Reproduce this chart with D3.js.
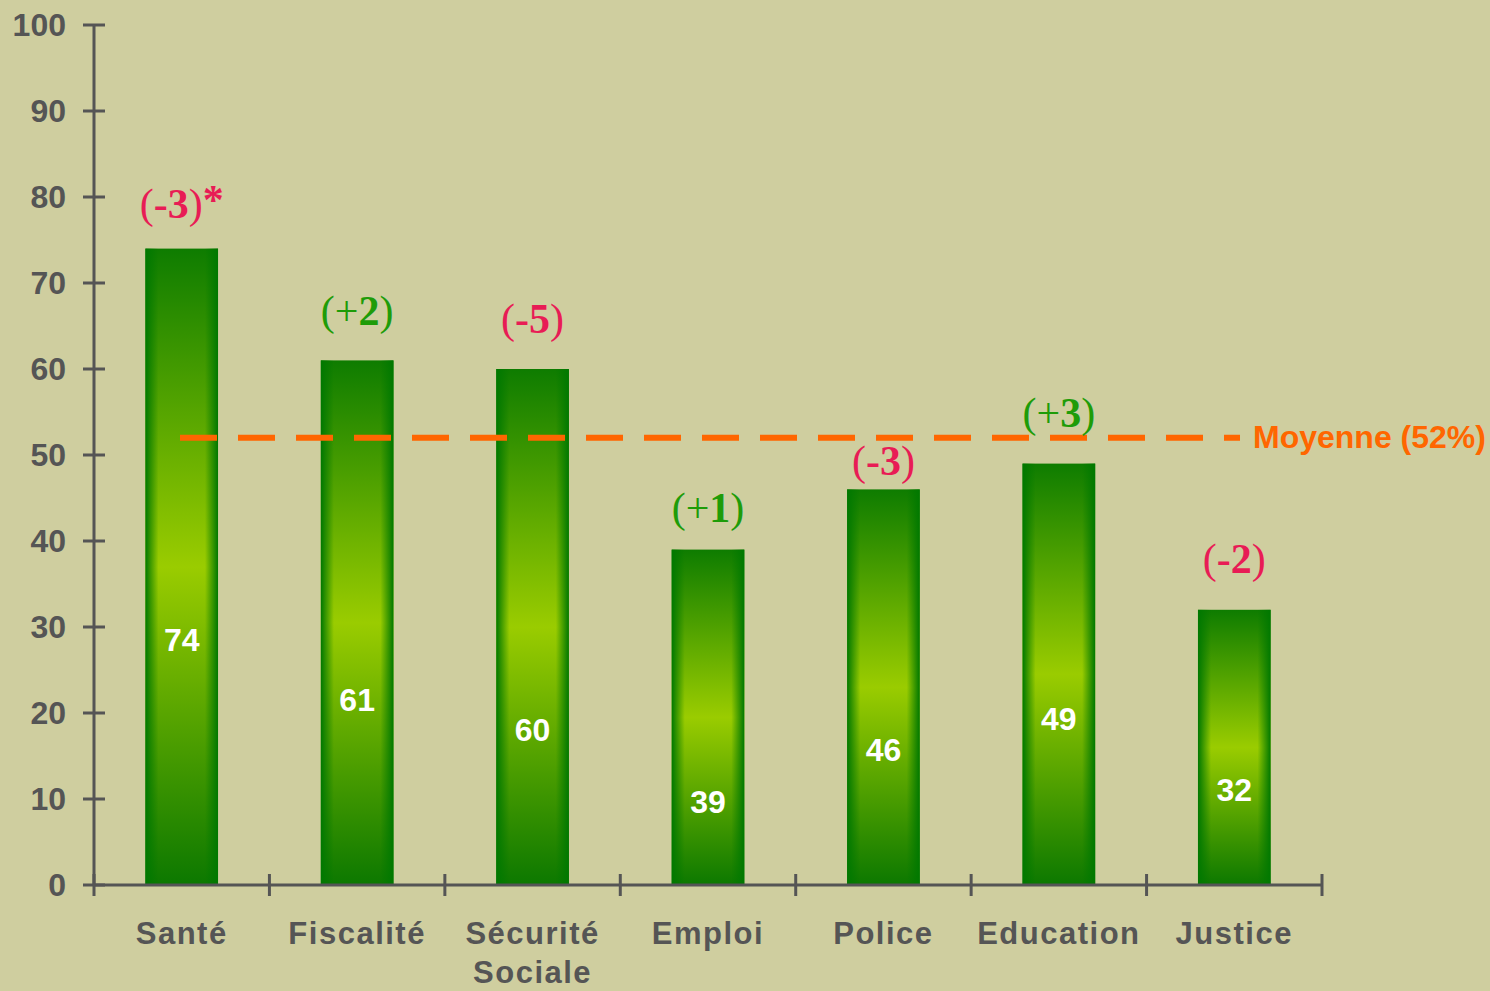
<!DOCTYPE html>
<html>
<head>
<meta charset="utf-8">
<script src="https://cdn.jsdelivr.net/npm/d3@7"></script>
<style>
  html, body { margin: 0; padding: 0; background: #cfce9f; }
  svg { display: block; }
</style>
</head>
<body>
<div id="chart"></div>
<script>
// categories and values
const categories = ["Santé", "Fiscalité", "Sécurité|Sociale", "Emploi", "Police", "Education", "Justice"];
const values = [74, 61, 60, 39, 46, 49, 32];
const changes = ["-3", "+2", "-5", "+1", "-3", "+3", "-2"];
// level (in % units) where each label sits
const valueLabelLevel = [27.2, 20.2, 16.7, 8.4, 14.4, 18.0, 9.75];
const changeLabelLevel = [77.6, 65.1, 64.2, 42.2, 47.7, 53.3, 36.3];
const yTicks = [0, 10, 20, 30, 40, 50, 60, 70, 80, 90, 100];
const average = 52;

const W = 1490, H = 991;
const axisColor = "#555555";
const red = "#e81c55", green = "#1e9c08", orange = "#ff6600";

const svg = d3.select("#chart").append("svg")
    .attr("width", W).attr("height", H);

svg.append("rect").attr("width", W).attr("height", H).attr("fill", "#cfce9f");

// gradients for the bars
const defs = svg.append("defs");
const vg = defs.append("linearGradient").attr("id", "barV")
    .attr("x1", 0).attr("y1", 0).attr("x2", 0).attr("y2", 1);
vg.append("stop").attr("offset", "0%").attr("stop-color", "#0e7c00");
vg.append("stop").attr("offset", "50%").attr("stop-color", "#9acc00");
vg.append("stop").attr("offset", "100%").attr("stop-color", "#0c7800");

const hg = defs.append("linearGradient").attr("id", "barH")
    .attr("x1", 0).attr("y1", 0).attr("x2", 1).attr("y2", 0);
hg.append("stop").attr("offset", "0%").attr("stop-color", "#007800").attr("stop-opacity", 1);
hg.append("stop").attr("offset", "18%").attr("stop-color", "#007800").attr("stop-opacity", 0);
hg.append("stop").attr("offset", "82%").attr("stop-color", "#007800").attr("stop-opacity", 0);
hg.append("stop").attr("offset", "100%").attr("stop-color", "#007800").attr("stop-opacity", 1);

// scales
const x = d3.scaleBand()
    .domain(categories)
    .range([94, 1322])
    .paddingInner(0.586)
    .paddingOuter(0.293);

const y = d3.scaleLinear()
    .domain([0, 100])
    .range([885, 25]);

// bars
const bars = svg.append("g");
bars.selectAll("rect.v")
    .data(values)
    .enter()
    .append("rect")
    .attr("class", "v")
    .attr("x", (d, i) => x(categories[i]))
    .attr("y", d => y(d))
    .attr("width", x.bandwidth())
    .attr("height", d => y(0) - y(d))
    .attr("fill", "url(#barV)");

bars.selectAll("rect.h")
    .data(values)
    .enter()
    .append("rect")
    .attr("class", "h")
    .attr("x", (d, i) => x(categories[i]))
    .attr("y", d => y(d))
    .attr("width", x.bandwidth())
    .attr("height", d => y(0) - y(d))
    .attr("fill", "url(#barH)");

// y axis
const yAxis = svg.append("g")
    .attr("transform", `translate(94,0)`)
    .call(d3.axisLeft(y).tickValues(yTicks).tickSize(0).tickPadding(28));
yAxis.select(".domain").remove();
yAxis.selectAll("text")
    .attr("fill", axisColor)
    .style("font-family", "'Liberation Sans', Arial, sans-serif")
    .style("font-weight", "bold")
    .style("font-size", "32px");

svg.append("line")
    .attr("x1", 94).attr("x2", 94)
    .attr("y1", y(100)).attr("y2", y(0))
    .attr("stroke", axisColor).attr("stroke-width", 3);

svg.selectAll("line.ytick")
    .data(yTicks)
    .enter()
    .append("line")
    .attr("class", "ytick")
    .attr("x1", 83).attr("x2", 105)
    .attr("y1", d => y(d)).attr("y2", d => y(d))
    .attr("stroke", axisColor).attr("stroke-width", 3);

// x axis
svg.append("line")
    .attr("x1", 94).attr("x2", 1322)
    .attr("y1", y(0)).attr("y2", y(0))
    .attr("stroke", axisColor).attr("stroke-width", 3);

const boundaries = d3.range(categories.length + 1);
svg.selectAll("line.xtick")
    .data(boundaries)
    .enter()
    .append("line")
    .attr("class", "xtick")
    .attr("x1", d => 94 + d * x.step())
    .attr("x2", d => 94 + d * x.step())
    .attr("y1", y(0) - 11).attr("y2", y(0) + 11)
    .attr("stroke", axisColor).attr("stroke-width", 3);

// category labels
const catLabels = svg.selectAll("text.cat")
    .data(categories)
    .enter()
    .append("text")
    .attr("class", "cat")
    .attr("text-anchor", "middle")
    .attr("fill", axisColor)
    .style("font-family", "'Liberation Sans', Arial, sans-serif")
    .style("font-weight", "bold")
    .style("font-size", "31px")
    .style("letter-spacing", "1.5px");

catLabels.each(function (d) {
    const cx = x(d) + x.bandwidth() / 2;
    d.split("|").forEach((part, k) => {
        d3.select(this).append("tspan")
            .attr("x", cx)
            .attr("y", 944 + k * 39)
            .text(part);
    });
});

// average line
svg.append("line")
    .attr("x1", 180).attr("x2", 1240)
    .attr("y1", y(average)).attr("y2", y(average))
    .attr("stroke", orange)
    .attr("stroke-width", 6)
    .attr("stroke-dasharray", "37 21");

svg.append("text")
    .attr("x", 1253)
    .attr("y", y(average) + 10)
    .attr("fill", orange)
    .style("font-family", "'Liberation Sans', Arial, sans-serif")
    .style("font-weight", "bold")
    .style("font-size", "32px")
    .text(`Moyenne (${average}%)`);

// value labels
svg.selectAll("text.val")
    .data(values)
    .enter()
    .append("text")
    .attr("class", "val")
    .attr("x", (d, i) => x(categories[i]) + x.bandwidth() / 2)
    .attr("y", (d, i) => y(valueLabelLevel[i]))
    .attr("text-anchor", "middle")
    .attr("fill", "#ffffff")
    .style("font-family", "'Liberation Sans', Arial, sans-serif")
    .style("font-weight", "bold")
    .style("font-size", "32px")
    .text(d => d);

// change labels
const chg = svg.selectAll("text.chg")
    .data(changes)
    .enter()
    .append("text")
    .attr("class", "chg")
    .attr("x", (d, i) => x(categories[i]) + x.bandwidth() / 2)
    .attr("y", (d, i) => y(changeLabelLevel[i]))
    .attr("text-anchor", "middle")
    .attr("fill", d => d.startsWith("-") ? red : green)
    .style("font-family", "'Liberation Serif', 'DejaVu Serif', serif")
    .style("font-size", "42px");

chg.each(function (d, i) {
    const t = d3.select(this);
    t.append("tspan").text("(");
    if (d.startsWith("+")) {
        t.append("tspan").text("+");
        t.append("tspan").style("font-weight", "bold").text(d.slice(1));
    } else {
        t.append("tspan").style("font-weight", "bold").text(d);
    }
    t.append("tspan").text(")");
    if (i === 0) t.append("tspan").style("font-weight", "bold").attr("dy", -4).text("*");
});
</script>
</body>
</html>
